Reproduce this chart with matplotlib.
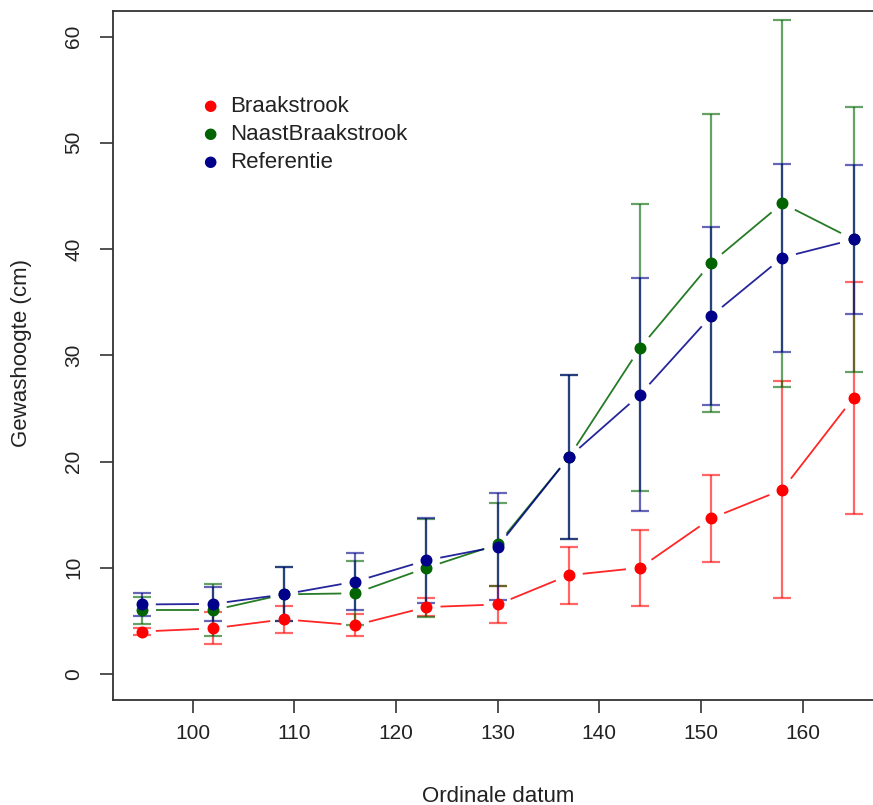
import numpy as np
import matplotlib
matplotlib.use("Agg")
import matplotlib.pyplot as plt

plt.rcParams['font.family'] = ['Liberation Sans', 'DejaVu Sans']

# ordinal dates
dagen = [95, 102, 109, 116, 123, 130, 137, 144, 151, 158, 165]

# mean crop height and error (cm) per treatment
braak = [4.0, 4.3, 5.15, 4.6, 6.3, 6.55, 9.3, 10.0, 14.65, 17.35, 26.0]
braak_err = [0.3, 1.5, 1.3, 1.05, 0.85, 1.7, 2.7, 3.6, 4.1, 10.2, 10.9]

naast = [6.0, 6.0, 7.5, 7.6, 10.0, 12.2, 20.4, 30.7, 38.7, 44.3, 40.9]
naast_err = [1.25, 2.45, 2.55, 3.0, 4.6, 3.9, 7.7, 13.5, 14.0, 17.3, 12.5]

refer = [6.55, 6.6, 7.5, 8.7, 10.7, 12.0, 20.4, 26.3, 33.7, 39.2, 40.9]
refer_err = [1.05, 1.6, 2.55, 2.7, 4.0, 5.0, 7.7, 11.0, 8.4, 8.85, 7.05]

namen = ["Braakstrook", "NaastBraakstrook", "Referentie"]
kleuren = ["#ff0000", "#006400", "#00008b"]


def gapLines(fig, ax, x, y, color, gap=14):
    # R type="b": line pieces that stop short of the points
    fig.canvas.draw()
    pts = ax.transData.transform(np.column_stack([x, y]))
    inv = ax.transData.inverted()
    for i in range(len(pts) - 1):
        p0 = pts[i]
        p1 = pts[i + 1]
        d = p1 - p0
        L = np.hypot(d[0], d[1])
        if L <= 2 * gap:
            continue
        u = d / L
        a = inv.transform(p0 + u * gap)
        b = inv.transform(p1 - u * gap)
        ax.plot([a[0], b[0]], [a[1], b[1]], color=color, lw=1.3, alpha=0.85,
                solid_capstyle='butt', zorder=2)


def main():
    fig = plt.figure(figsize=(8.73, 8.05), dpi=100)
    ax = fig.add_axes([0.1298, 0.131, 0.8805, 0.8553])
    ax.set_xlim(92.2, 167.8)
    ax.set_ylim(-2.4, 62.4)

    reeksen = [(braak, braak_err), (naast, naast_err), (refer, refer_err)]
    for (vals, err), kleur, naam in zip(reeksen, kleuren, namen):
        ax.errorbar(dagen, vals, yerr=err, fmt='none', ecolor=kleur,
                    elinewidth=1.6, capsize=6.2, capthick=1.6, alpha=0.6, zorder=3)
        gapLines(fig, ax, dagen, vals, kleur)
        ax.plot(dagen, vals, 'o', color=kleur, markersize=7.6, zorder=4)

    # legend without frame, drawn as in R
    for i, (naam, kleur) in enumerate(zip(namen, kleuren)):
        ypix = 805 - (106 + 28 * i)
        fig.text(210 / 873, ypix / 805, u"\u25CF", color=kleur, fontsize=11,
                 ha='center', va='center', family='DejaVu Sans')
        fig.text(230 / 873, ypix / 805, naam, color='#222222', fontsize=16,
                 ha='left', va='center')

    ax.set_xticks([100, 110, 120, 130, 140, 150, 160])
    ax.set_yticks([0, 10, 20, 30, 40, 50, 60])
    ax.tick_params(direction='out', length=9.5, width=1.2, colors='#333333',
                   labelsize=15, labelcolor='#222222', pad=8)
    ax.tick_params(axis='y', pad=12)
    for lab in ax.get_yticklabels():
        lab.set_rotation(90)
        lab.set_va('center')
    for s in ax.spines.values():
        s.set_color('#333333')
        s.set_linewidth(1.3)

    fig.text(498 / 873, 1 - 796 / 805, "Ordinale datum", fontsize=16,
             ha='center', va='center', color='#222222')
    fig.text(22 / 873, 1 - 353 / 805, "Gewashoogte (cm)", fontsize=16,
             ha='center', va='center', rotation=90, color='#222222')

    fig.savefig("out.png", dpi=100, facecolor='white')


if __name__ == "__main__":
    main()
